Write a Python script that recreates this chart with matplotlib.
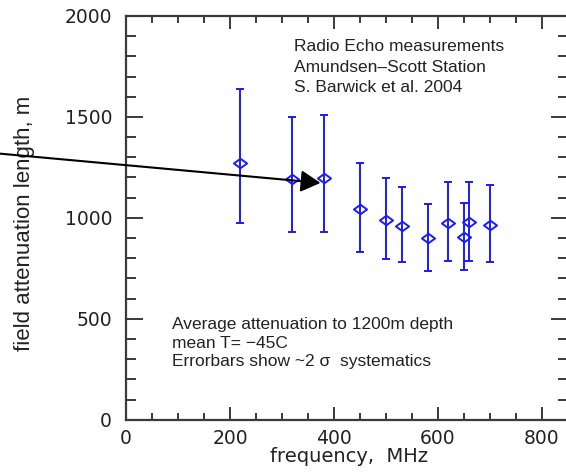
import matplotlib
matplotlib.use("Agg")
import matplotlib.pyplot as plt
from matplotlib.path import Path
from matplotlib.ticker import MultipleLocator

# ---- data ----
freq_mhz = [220, 320, 380, 450, 500, 530, 580, 620, 650, 660, 700]
atten_len = [1271, 1192, 1198, 1042, 989, 960, 898, 975, 906, 977, 967]
err_low = [975, 928, 930, 830, 797, 779, 738, 787, 741, 787, 782]
err_high = [1636, 1502, 1512, 1272, 1195, 1152, 1068, 1177, 1074, 1177, 1163]

xticks = [0, 200, 400, 600, 800]
yticks = [0, 500, 1000, 1500, 2000]

top_text = ["Radio Echo measurements", "Amundsen\u2013Scott Station", "S. Barwick et al. 2004"]
bottom_text = ["Average attenuation to 1200m depth", "mean T= \u221245C",
               "Errorbars show ~2 \u03c3  systematics"]

W, H = 566, 474
fig = plt.figure(figsize=(W / 100, H / 100), dpi=100)
ax_l, ax_r, ax_t, ax_b = 126, 568, 16, 419.7
ax = fig.add_axes([ax_l / W, 1 - ax_b / H, (ax_r - ax_l) / W, (ax_b - ax_t) / H])

ax.set_xlim(0, 850)
ax.set_ylim(0, 2000)

yerr = [[v - lo for v, lo in zip(atten_len, err_low)],
        [hi - v for v, hi in zip(atten_len, err_high)]]

diamond = Path([(-1, 0), (0, 0.72), (1, 0), (0, -0.72), (-1, 0)],
               [Path.MOVETO, Path.LINETO, Path.LINETO, Path.LINETO, Path.CLOSEPOLY])

ax.errorbar(freq_mhz, atten_len, yerr=yerr, fmt='none', ecolor='#1a1aff',
            elinewidth=1.4, capsize=2.8, capthick=1.4, zorder=3)
ax.plot(freq_mhz, atten_len, linestyle='none', marker=diamond, markersize=9.5,
        markerfacecolor='none', markeredgecolor='#1a1aff', markeredgewidth=1.4, zorder=4)

# arrow
ax.annotate('', xy=(374, 1173), xytext=(-242, 1318),
            arrowprops=dict(arrowstyle='-|>,head_length=0.4,head_width=0.22',
                            color='black', lw=1.5, mutation_scale=30,
                            shrinkA=0, shrinkB=0),
            annotation_clip=False, zorder=5)

# texts
tfont = dict(family=['Liberation Sans', 'DejaVu Sans'], fontsize=12.5, color='#222222')
for s, y in zip(top_text, [1851, 1747, 1648]):
    ax.text(324, y, s, ha='left', va='center', **tfont)
for s, y in zip(bottom_text, [474, 378, 287]):
    ax.text(88, y, s, ha='left', va='center', **tfont)

# ticks
ax.set_xticks(xticks)
ax.set_yticks(yticks)
ax.xaxis.set_minor_locator(MultipleLocator(50))
ax.yaxis.set_minor_locator(MultipleLocator(100))
spine_col = '#3a3a3a'
for s in ax.spines.values():
    s.set_color(spine_col)
    s.set_linewidth(1.6)
ax.tick_params(axis='both', which='both', direction='in', top=True, right=True,
               color=spine_col, width=1.4)
ax.tick_params(axis='x', which='major', length=9.5, pad=6.5)
ax.tick_params(axis='x', which='minor', length=5)
ax.tick_params(axis='y', which='major', length=12, pad=10)
ax.tick_params(axis='y', which='minor', length=7)
for lab in ax.get_xticklabels() + ax.get_yticklabels():
    lab.set_fontfamily('DejaVu Sans')
    lab.set_fontsize(13.5)
    lab.set_color('#222222')

ax.set_xlabel("frequency,  MHz", fontsize=14, family='DejaVu Sans', color='#222222', va='center')
ax.xaxis.set_label_coords((349 - ax_l) / (ax_r - ax_l), (ax_b - 456) / (ax_b - ax_t))
ax.set_ylabel("field attenuation length, m", fontsize=16, family='Liberation Sans',
              color='#222222', va='center')
ax.yaxis.set_label_coords((25 - ax_l) / (ax_r - ax_l), (ax_b - 223) / (ax_b - ax_t))

fig.savefig("out.png", dpi=100)
